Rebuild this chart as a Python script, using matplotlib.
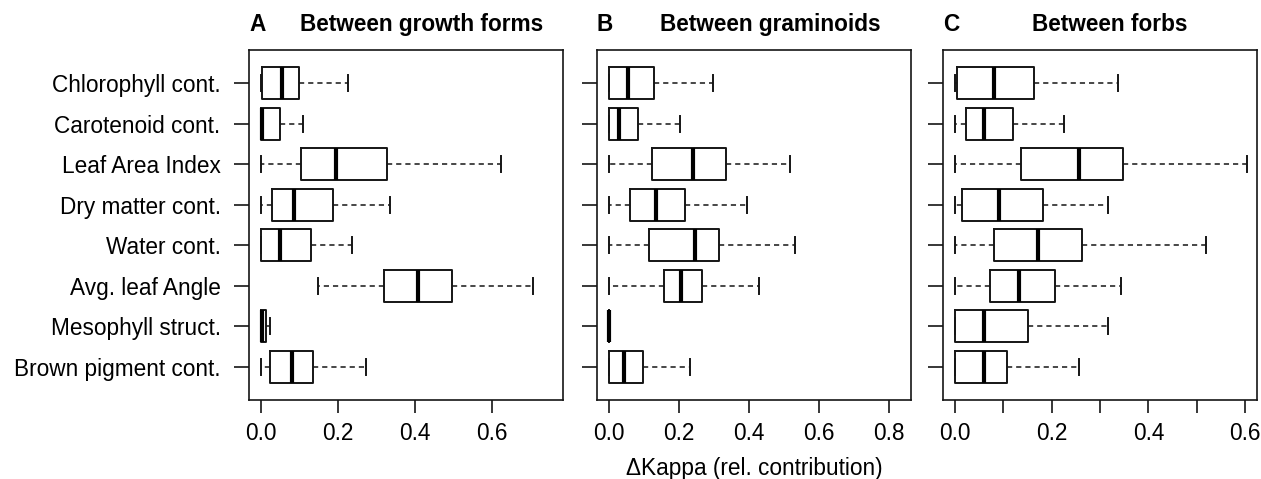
import matplotlib
matplotlib.use("Agg")
import matplotlib.pyplot as plt

plt.rcParams['font.family'] = ['Liberation Sans', 'DejaVu Sans']

traits = ["Chlorophyll cont.", "Carotenoid cont.", "Leaf Area Index", "Dry matter cont.",
          "Water cont.", "Avg. leaf Angle", "Mesophyll struct.", "Brown pigment cont."]

# Panel A: between growth forms  (whislo, q1, med, q3, whishi)
a_whislo = [0.000, 0.000, 0.000, 0.000, 0.000, 0.148, 0.000, 0.000]
a_q1     = [0.004, 0.000, 0.103, 0.029, 0.000, 0.320, 0.000, 0.024]
a_med    = [0.055, 0.002, 0.194, 0.086, 0.049, 0.408, 0.003, 0.081]
a_q3     = [0.099, 0.049, 0.326, 0.186, 0.129, 0.495, 0.012, 0.136]
a_whishi = [0.227, 0.110, 0.623, 0.334, 0.236, 0.705, 0.024, 0.272]

# Panel B: between graminoids
b_whislo = [0.000, 0.000, 0.000, 0.000, 0.000, 0.000, 0.000, 0.000]
b_q1     = [0.000, 0.000, 0.123, 0.061, 0.114, 0.156, 0.000, 0.000]
b_med    = [0.054, 0.028, 0.239, 0.135, 0.246, 0.205, 0.000, 0.042]
b_q3     = [0.129, 0.083, 0.333, 0.218, 0.313, 0.265, 0.000, 0.096]
b_whishi = [0.298, 0.204, 0.516, 0.394, 0.531, 0.428, 0.000, 0.231]

# Panel C: between forbs
c_whislo = [0.000, 0.000, 0.000, 0.000, 0.000, 0.000, 0.000, 0.000]
c_q1     = [0.005, 0.023, 0.136, 0.016, 0.081, 0.072, 0.000, 0.000]
c_med    = [0.082, 0.061, 0.257, 0.092, 0.172, 0.133, 0.061, 0.061]
c_q3     = [0.164, 0.121, 0.348, 0.183, 0.263, 0.208, 0.152, 0.108]
c_whishi = [0.337, 0.226, 0.603, 0.317, 0.518, 0.343, 0.317, 0.256]

panel_letters = ["A", "B", "C"]
panel_titles = ["Between growth forms", "Between graminoids", "Between forbs"]
xlabel = "\u0394Kappa (rel. contribution)"

panels = [
    (a_whislo, a_q1, a_med, a_q3, a_whishi),
    (b_whislo, b_q1, b_med, b_q3, b_whishi),
    (c_whislo, c_q1, c_med, c_q3, c_whishi),
]

W, H = 1261, 479
fig = plt.figure(figsize=(W / 100, H / 100), dpi=100)

# pixel layout of axes: (left, right)
ax_px = [(249, 563), (597, 911), (943, 1257)]
top_px, bot_px = 50, 400
xlims = [(-0.031, 0.784), (-0.034, 0.862), (-0.024, 0.624)]
xticks = [[0, 0.2, 0.4, 0.6], [0, 0.2, 0.4, 0.6, 0.8],
          [0, 0.1, 0.2, 0.3, 0.4, 0.5, 0.6]]
xticklabels = [["0.0", "0.2", "0.4", "0.6"], ["0.0", "0.2", "0.4", "0.6", "0.8"],
               ["0.0", "", "0.2", "", "0.4", "", "0.6"]]
title_x = [0.551, 0.553, 0.532]

fs = 16.3
ink = '#151515'
for i, (stats_src, (l, r)) in enumerate(zip(panels, ax_px)):
    ax = fig.add_axes([l / W, (H - bot_px) / H, (r - l) / W, (bot_px - top_px) / H])
    whislo, q1, med, q3, whishi = stats_src
    stats = []
    for k in range(len(traits)):
        stats.append(dict(whislo=whislo[k], q1=q1[k], med=med[k], q3=q3[k],
                          whishi=whishi[k], fliers=[]))
    ax.bxp(stats, positions=list(range(1, len(traits) + 1)), orientation='horizontal',
           widths=0.8, showfliers=False,
           boxprops=dict(color=ink, linewidth=1.4),
           medianprops=dict(color='black', linewidth=3.0, solid_capstyle='butt'),
           whiskerprops=dict(color=ink, linewidth=1.1, linestyle=(0, (3.4, 2.6))),
           capprops=dict(color=ink, linewidth=1.4),
           capwidths=0.4)
    ax.set_ylim(8.82, 0.18)
    ax.set_xlim(*xlims[i])
    ax.set_yticks(range(1, len(traits) + 1))
    if i == 0:
        ax.set_yticklabels(traits, fontsize=fs)
    else:
        ax.set_yticklabels([])
    ax.set_xticks(xticks[i])
    ax.set_xticklabels(xticklabels[i], fontsize=fs)
    ax.tick_params(axis='y', direction='out', length=10.5, width=1.2, pad=10, color=ink)
    ax.tick_params(axis='x', direction='out', length=9.5, width=1.2, pad=6, color=ink)
    for s in ax.spines.values():
        s.set_linewidth(1.2)
        s.set_color(ink)
    ax.text(0.0, 1.072, panel_letters[i], transform=ax.transAxes, ha='left', va='center',
            fontsize=fs, fontweight='bold')
    ax.text(title_x[i], 1.072, panel_titles[i], transform=ax.transAxes, ha='center',
            va='center', fontsize=fs, fontweight='bold')
    if i == 1:
        ax.set_xlabel(xlabel, fontsize=fs, labelpad=9)

fig.savefig("out.png", dpi=100)
